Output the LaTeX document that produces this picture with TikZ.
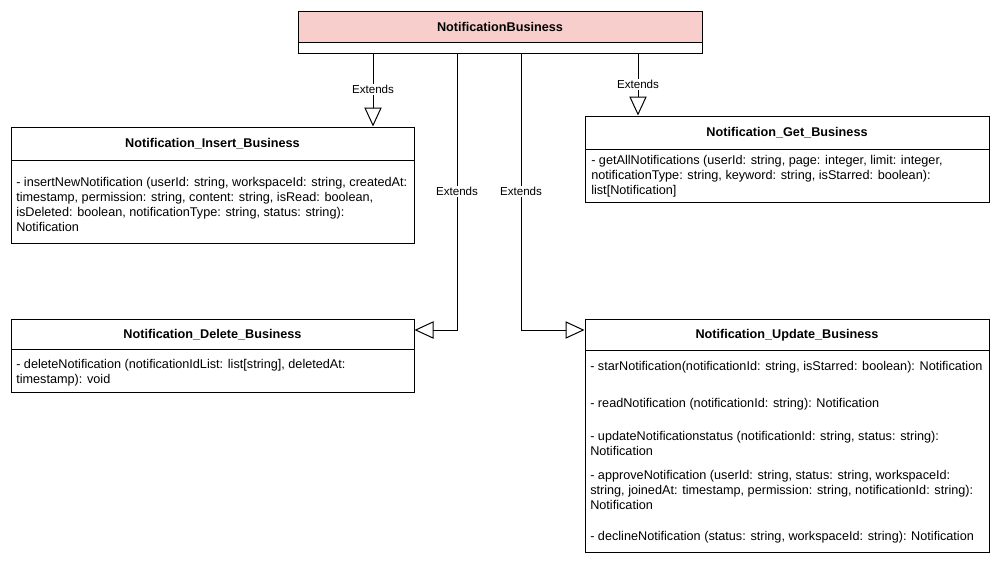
\documentclass[tikz,border=0pt]{standalone}
\usepackage{fontspec}
\setmainfont{Liberation Sans}
\usetikzlibrary{arrows.meta}
\definecolor{hdrpink}{HTML}{F8CECC}
\begin{document}
\begin{tikzpicture}[x=0.75pt,y=-0.75pt,
  cls/.style={draw=black, line width=0.75pt, rectangle, inner sep=0pt, minimum width=#1},
  ttl/.style={font=\fontsize{9.5}{11.25}\selectfont\bfseries, inner sep=0pt},
  mtxt/.style={font=\fontsize{9.5}{11.25}\selectfont, inner sep=0pt, anchor=west, align=left},
  lbl/.style={font=\fontsize{8.7}{10}\selectfont, fill=white, inner sep=1pt},
  ext/.style={draw=black, line width=0.75pt, -{Triangle[open, length=14.25pt, width=13pt, fill=white]}},
  sep/.style={draw=black, line width=0.75pt}]
\useasboundingbox[fill=white] (0,0) rectangle (1000,564);

% NotificationBusiness
\fill[hdrpink] (298,11) rectangle (702,42);
\node[cls=303pt, minimum height=31.5pt] (nb) at (500,32) {};
\draw[sep] (298,42) -- (702,42);
\node[ttl] (nbt) at (500,27) {NotificationBusiness};

% Insert
\node[cls=302.25pt, minimum height=87pt] (ins) at (212.5,185) {};
\draw[sep] (11,160) -- (414,160);
\node[ttl] (inst) at (212.5,144) {Notification\_Insert\_Business};
\node[mtxt] (insm) at (16,204.5) {- insertNewNotification (userId: string, workspaceId: string, createdAt:\\timestamp, permission: string, content: string, isRead: boolean,\\isDeleted: boolean, notificationType: string, status: string):\\Notification};

% Get
\node[cls=303pt, minimum height=64.5pt] (get) at (787,159) {};
\draw[sep] (585,149) -- (989,149);
\node[ttl] (gett) at (787,133) {Notification\_Get\_Business};
\node[mtxt] (getm) at (591,176) {- getAllNotifications (userId: string, page: integer, limit: integer,\\notificationType: string, keyword: string, isStarred: boolean):\\list[Notification]};

% Delete
\node[cls=302.25pt, minimum height=54.75pt] (del) at (212.5,355.5) {};
\draw[sep] (11,349) -- (414,349);
\node[ttl] (delt) at (212.5,335) {Notification\_Delete\_Business};
\node[mtxt] (delm) at (16,372.5) {- deleteNotification (notificationIdList: list[string], deletedAt:\\timestamp): void};

% Update
\node[cls=303pt, minimum height=174.75pt] (upd) at (787,435.5) {};
\draw[sep] (585,350) -- (989,350);
\node[ttl] (updt) at (787,335) {Notification\_Update\_Business};
\node[mtxt] (u1) at (590,367) {- starNotification(notificationId: string, isStarred: boolean): Notification};
\node[mtxt] (u2) at (590,404) {- readNotification (notificationId: string): Notification};
\node[mtxt] (u3) at (590,443.5) {- updateNotificationstatus (notificationId: string, status: string):\\Notification};
\node[mtxt] (u4) at (590,490) {- approveNotification (userId: string, status: string, workspaceId:\\string, joinedAt: timestamp, permission: string, notificationId: string):\\Notification};
\node[mtxt] (u5) at (590,537) {- declineNotification (status: string, workspaceId: string): Notification};

% connectors
\coordinate (cx1) at (373,0);
\coordinate (cx2) at (638,0);
\coordinate (cx3) at (457,330);
\coordinate (cx4) at (521,330);
\draw[ext] (nb.south -| cx1) -- node[lbl, pos=0.49] (l1) {Extends} (ins.north -| cx1);
\draw[ext] (nb.south -| cx2) -- node[lbl, pos=0.5] (l2) {Extends} (get.north -| cx2);
\draw[ext] (nb.south -| cx3) -- node[lbl, pos=0.5] (l3) {Extends} (cx3) -- (del.east |- cx3);
\draw[ext] (nb.south -| cx4) -- node[lbl, pos=0.5] (l4) {Extends} (cx4) -- (upd.west |- cx4);
\end{tikzpicture}
\end{document}
